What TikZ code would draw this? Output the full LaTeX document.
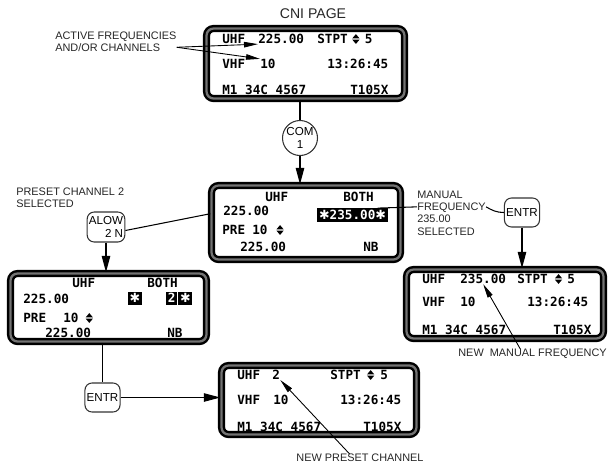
\documentclass[tikz,border=0pt]{standalone}
\usepackage{fontspec}
\usepackage{tikz}
\usetikzlibrary{arrows.meta,positioning,shapes.geometric}

\newfontfamily\dispfont{DejaVu Sans Mono}
\newfontfamily\lblfont{Liberation Sans}
\newfontfamily\symfont{DejaVu Sans}
% small up/down marker of the display
\newcommand{\updn}{\tikz[x=1pt,y=1pt,baseline=0pt]{\fill (0,2.9) -- (4.2,2.9) -- (2.1,5.4) -- cycle; \fill (0,2.3) -- (4.2,2.3) -- (2.1,-0.2) -- cycle;}}
\newcommand{\astmark}{{\symfont ✱}}

\begin{document}
\begin{tikzpicture}[
  x=0.02cm, y=-0.02cm,
  screen/.style={draw=black, line width=1.4pt, double=black!55, double distance=1.3pt, rounded corners=4pt, fill=white, inner sep=0pt},
  disp/.style={font=\fontsize{7.2}{8}\dispfont\bfseries, inner sep=0pt, anchor=west},
  inv/.style={disp, fill=black, text=white, inner sep=1pt},
  lbl/.style={font=\fontsize{6.2}{7}\lblfont, text=black!85, inner sep=0pt, align=left},
  btn/.style={draw=black!80, line width=0.6pt, rounded corners=4pt, font=\fontsize{6.6}{7.6}\lblfont, inner sep=1pt, align=center},
  arr/.style={-{Triangle[length=3.3mm,width=1.7mm]}, line width=0.7pt},
  ptr/.style={-{Triangle[length=2.8mm,width=1.1mm]}, line width=0.5pt}
]
\useasboundingbox (0,0) rectangle (609,464);

% screens
\node[screen, minimum width=3.96cm, minimum height=1.40cm] (cni) at (305.5,63.5) {};
\node[screen, minimum width=3.78cm, minimum height=1.48cm] (sel) at (306,222.5) {};
\node[screen, minimum width=3.92cm, minimum height=1.36cm] (preset) at (108.5,307.5) {};
\node[screen, minimum width=3.94cm, minimum height=1.38cm] (manual) at (505,304) {};
\node[screen, minimum width=3.90cm, minimum height=1.38cm] (newpre) at (319,400) {};

% CNI page
\node[lbl, font=\fontsize{8}{9}\lblfont] (title) at (313,14) {CNI PAGE};
\node[disp] (c1) at (222,39) {UHF};
\node[disp] (c2) at (258,39) {225.00};
\node[disp] (c3) at (317,39) {STPT\hspace{2.5pt}\updn\hspace{3pt}5};
\node[disp] (c4) at (222,64) {VHF};
\node[disp] (c5) at (260,64) {10};
\node[disp] (c6) at (327,64) {13:26:45};
\node[disp] (c7) at (222,90) {M1 34C 4567};
\node[disp] (c8) at (350,90) {T105X};

% manual frequency selected
\node[disp] (s1) at (265,197) {UHF};
\node[disp] (s2) at (343,197) {BOTH};
\node[disp] (s3) at (223,211) {225.00};
\node[inv] (hl) at (317,215) {\astmark235.00\astmark};
\node[disp] (s4) at (222,230) {PRE};
\node[disp] (s5) at (252,230) {10\hspace{5pt}\updn};
\node[disp] (s6) at (240,247) {225.00};
\node[disp] (s7) at (363,247) {NB};

% preset channel selected
\node[disp] (p1) at (72,283) {UHF};
\node[disp] (p2) at (147,283) {BOTH};
\node[disp] (p3) at (23,299) {225.00};
\node[inv, anchor=center, minimum size=0.26cm] (p4) at (135,298) {\astmark};
\node[inv, anchor=east, minimum height=0.26cm] (p5) at (177.5,298) {2};
\node[inv, anchor=west, minimum size=0.26cm] (p6) at (178,298) {\astmark};
\node[disp] (p7) at (23,318) {PRE};
\node[disp] (p8) at (63,318) {10\hspace{4pt}\updn};
\node[disp] (p9) at (45,333) {225.00};
\node[disp] (p10) at (167,333) {NB};

% new manual frequency
\node[disp] (m1) at (422,279) {UHF};
\node[disp] (m235) at (460,279) {235.00};
\node[disp] (m3) at (517,279) {STPT\hspace{4pt}\updn\hspace{3pt}5};
\node[disp] (m4) at (422,302) {VHF};
\node[disp] (m5) at (460,302) {10};
\node[disp] (m6) at (527,302) {13:26:45};
\node[disp] (m7) at (422,330) {M1 34C 4567};
\node[disp] (m8) at (553,330) {T105X};

% new preset channel
\node[disp] (n1) at (237,375) {UHF};
\node[disp] (n2) at (272,375) {2};
\node[disp] (n3) at (330,375) {STPT\hspace{3.5pt}\updn\hspace{3.5pt}5};
\node[disp] (n4) at (237,400) {VHF};
\node[disp] (n5) at (273,400) {10};
\node[disp] (n6) at (340,400) {13:26:45};
\node[disp] (n7) at (237,427) {M1 34C 4567};
\node[disp] (n8) at (363,427) {T105X};

% labels
\node[lbl, anchor=west] (active) at (55,42) {ACTIVE FREQUENCIES\\AND/OR CHANNELS};
\node[lbl, anchor=west] (presetlbl) at (16,198) {PRESET CHANNEL 2\\SELECTED};
\node[lbl, anchor=west] (manlbl) at (417,213) {MANUAL\\FREQUENCY\\235.00\\SELECTED};
\node[lbl, anchor=east] (newmanlbl) at (607,354) {NEW \ MANUAL FREQUENCY};
\node[lbl] (newprelbl) at (360,458) {NEW PRESET CHANNEL};

% keys
\node[btn, circle, rounded corners=0pt, minimum size=0.7cm, inner sep=0pt] (com) at (300,138) {COM\\1};
\node[btn, align=right, minimum width=0.72cm, minimum height=0.6cm] (alow) at (106,227) {ALOW\\2 N};
\node[btn, minimum width=0.66cm, minimum height=0.58cm] (entra) at (102.5,397.5) {ENTR};
\node[btn, minimum width=0.68cm, minimum height=0.58cm] (entrb) at (522,212.5) {ENTR};

% connectors
\draw[line width=0.7pt] (cni.south -| com.north) -- (com.north);
\draw[arr] (com.south) -- (com.south |- sel.north);
\draw[line width=0.6pt] ([yshift=-2pt]alow.east) -- ([yshift=5pt]sel.west);
\draw[arr] (alow.south) -- (alow.south |- preset.north);
\draw[line width=0.7pt] (entra.north |- preset.south) -- (entra.north);
\draw[arr, line width=0.5pt] (entra.east) -- (entra.east -| newpre.west);
\draw[line width=0.6pt] ([xshift=-6pt]hl.north east) -- ([yshift=3.5pt]manlbl.west);
\draw[line width=0.6pt] ([yshift=3.5pt]manlbl.east) to[out=-30,in=180] (entrb.west);
\draw[arr] (entrb.south) -- (entrb.south |- manual.north);
\draw[ptr] ([yshift=-3pt]active.east) -- (c2.south west);
\draw[ptr] ([yshift=-3pt]active.east) -- (c5.north west);
\draw[ptr] ([xshift=-6pt]newprelbl.north) -- (n2.south east);
\draw[ptr] ([xshift=-7pt]newmanlbl.north) -- (m235.south);
\end{tikzpicture}
\end{document}
